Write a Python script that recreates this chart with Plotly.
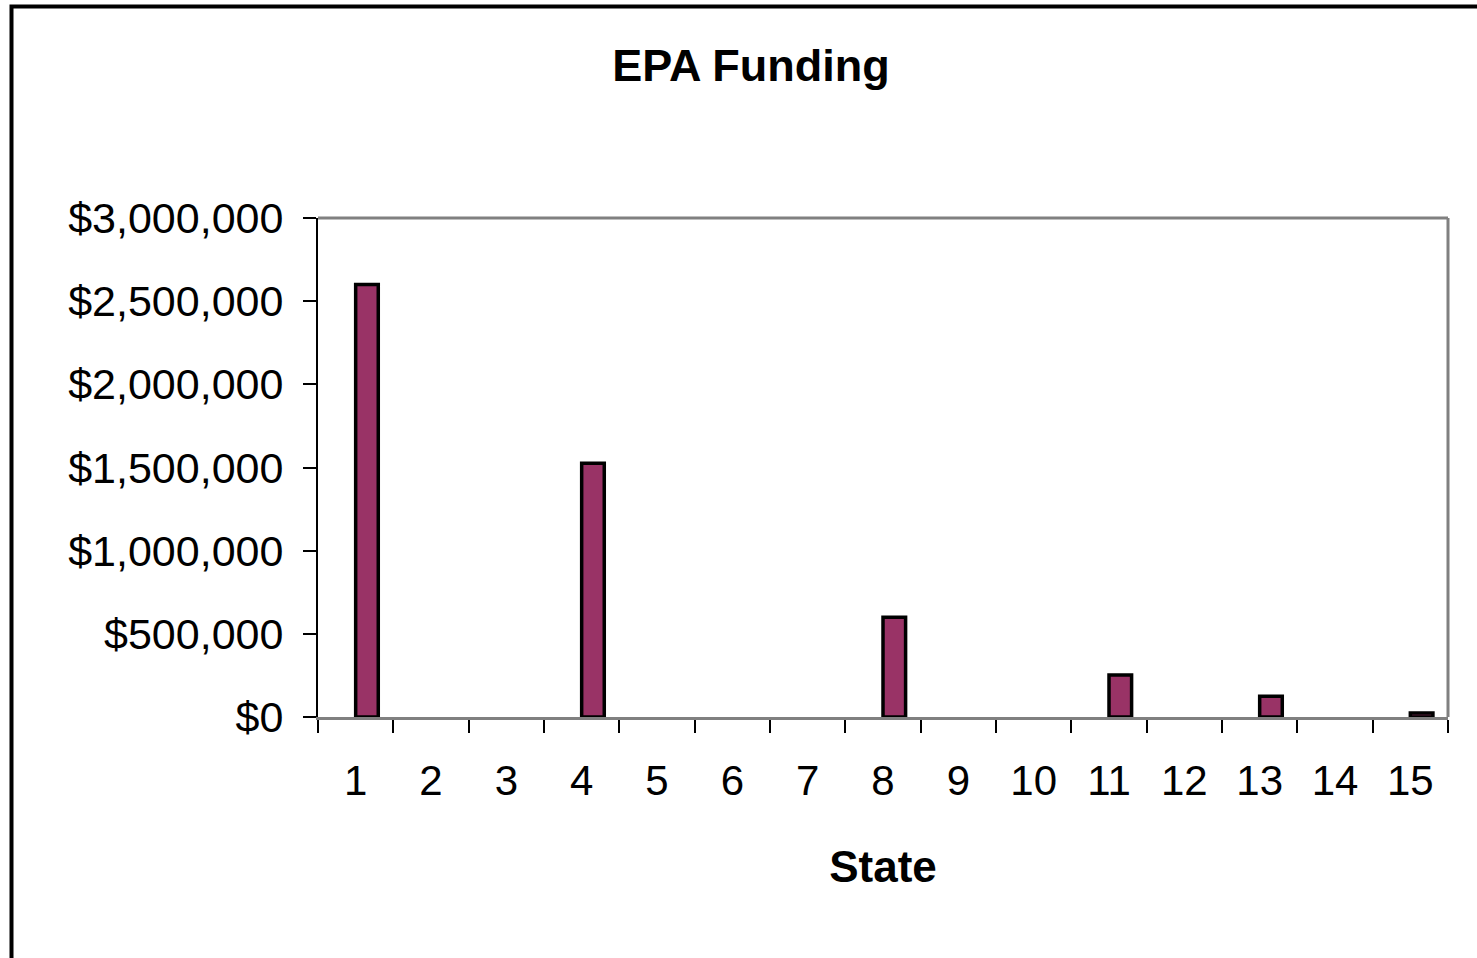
import plotly.graph_objects as go

states = [str(i) for i in range(1, 16)]
funding = [2600000, None, None, 1525000, None, None, None, 600000,
           None, None, 252000, None, 125000, None, 24000]
y_ticks = [0, 500000, 1000000, 1500000, 2000000, 2500000, 3000000]

FONT = "Liberation Sans, Arial, sans-serif"

fig = go.Figure()
fig.add_trace(go.Bar(
    x=states, y=funding,
    width=0.3, offset=0,
    marker=dict(color="#993366", line=dict(color="black", width=3.5)),
))

W, H = 1477, 958
L, R, T, B = 318, 29, 218, 241
pw, ph = W - L - R, H - T - B

def px_x(x):  # page pixel -> paper
    return (x - L) / pw

def px_y(y):
    return (H - B - y) / ph

fig.update_layout(
    width=W, height=H,
    margin=dict(l=L, r=R, t=T, b=B),
    paper_bgcolor="white", plot_bgcolor="white",
    showlegend=False,
    font=dict(family=FONT, color="black"),
    title=dict(text="<b>EPA Funding</b>", x=751 / W, xanchor="center",
               y=1 - 65 / H, yanchor="middle", yref="container",
               font=dict(size=45, family=FONT, color="black")),
    xaxis=dict(
        type="category", range=[-0.5, 14.5],
        showline=True, linecolor="#808080", linewidth=3,
        ticks="outside", tickson="boundaries", ticklen=13, tickwidth=2,
        tickcolor="black", ticklabelstandoff=25,
        tickfont=dict(size=42, family=FONT),
        showgrid=False, zeroline=False,
        title=dict(text="<b>State</b>", font=dict(size=44, family=FONT), standoff=48),
    ),
    yaxis=dict(
        range=[0, 3000000], tickvals=y_ticks, tickformat="$,.0f",
        showline=True, linecolor="black", linewidth=2,
        ticks="outside", ticklen=13, tickwidth=2, tickcolor="black",
        ticklabelstandoff=11,
        tickfont=dict(size=43, family=FONT),
        showgrid=False, zeroline=False,
    ),
    shapes=[
        dict(type="line", xref="paper", yref="paper", x0=0, x1=1, y0=1, y1=1,
             line=dict(color="#808080", width=3), layer="below"),
        dict(type="line", xref="paper", yref="paper", x0=1, x1=1, y0=0, y1=1,
             line=dict(color="#808080", width=3), layer="below"),
        dict(type="path", xref="paper", yref="paper",
             path=f"M {px_x(11.5)},{px_y(990)} L {px_x(11.5)},{px_y(6.5)} L {px_x(1500)},{px_y(6.5)}",
             line=dict(color="black", width=4)),
    ],
)

fig.write_html("out.html",
               config={"displayModeBar": False},
               post_script="document.body.style.margin='0';document.body.style.overflow='hidden';")
